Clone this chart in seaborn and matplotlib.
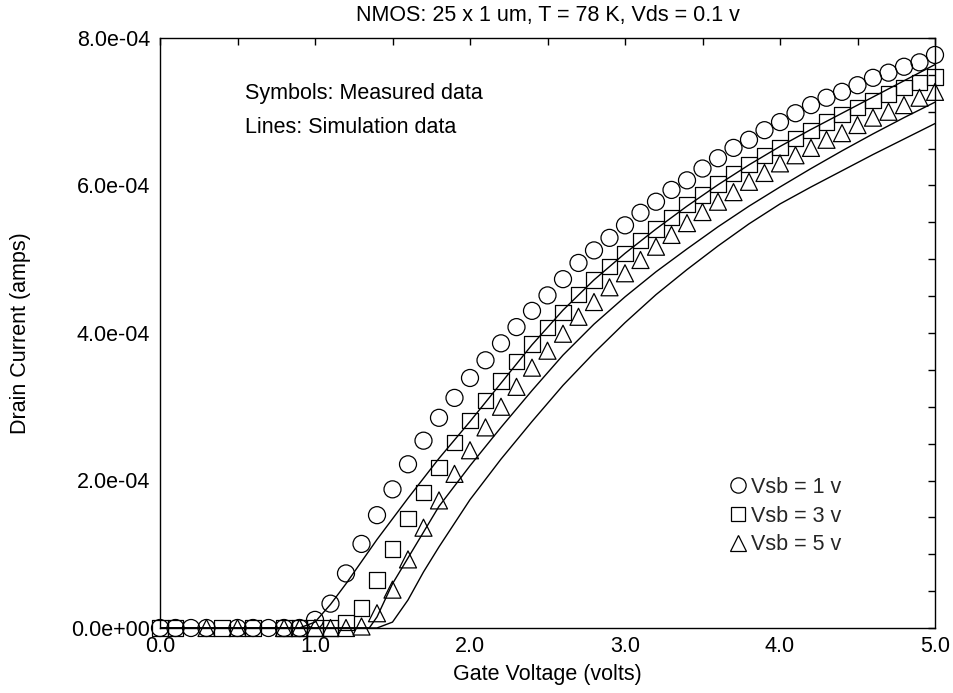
import numpy as np
import pandas as pd
import matplotlib
matplotlib.use("Agg")
import matplotlib.pyplot as plt
from matplotlib.ticker import MultipleLocator, FuncFormatter
from matplotlib.lines import Line2D
import seaborn as sns

# ---------------- data (current in units of 1e-4 A) ----------------
# measured, Vsb = 1 v (circles)
meas1_vg = [0.0, 0.1, 0.2, 0.3, 0.5, 0.6, 0.7, 0.8, 0.9, 1.0, 1.1, 1.2, 1.3, 1.4, 1.5,
            1.6, 1.7, 1.8, 1.9, 2.0, 2.1, 2.2, 2.3, 2.4, 2.5, 2.6, 2.7, 2.8, 2.9, 3.0,
            3.1, 3.2, 3.3, 3.4, 3.5, 3.6, 3.7, 3.8, 3.9, 4.0, 4.1, 4.2, 4.3, 4.4, 4.5,
            4.6, 4.7, 4.8, 4.9, 5.0]
meas1_id = [0.0, 0.0, 0.0, 0.0, 0.0, 0.0, 0.0, 0.0, 0.0, 0.11, 0.33, 0.74, 1.14, 1.53, 1.88,
            2.22, 2.54, 2.85, 3.12, 3.39, 3.63, 3.86, 4.08, 4.30, 4.51, 4.73, 4.95, 5.12, 5.29, 5.46,
            5.63, 5.78, 5.94, 6.07, 6.23, 6.37, 6.51, 6.62, 6.75, 6.86, 6.98, 7.09, 7.19, 7.27, 7.36,
            7.46, 7.53, 7.61, 7.67, 7.77]
# measured, Vsb = 3 v (squares)
meas3_vg = [0.0, 0.1, 0.4, 0.6, 0.8, 0.9, 1.0, 1.1, 1.2, 1.3, 1.4, 1.5,
            1.6, 1.7, 1.8, 1.9, 2.0, 2.1, 2.2, 2.3, 2.4, 2.5, 2.6, 2.7, 2.8, 2.9, 3.0,
            3.1, 3.2, 3.3, 3.4, 3.5, 3.6, 3.7, 3.8, 3.9, 4.0, 4.1, 4.2, 4.3, 4.4, 4.5,
            4.6, 4.7, 4.8, 4.9, 5.0]
meas3_id = [0.0, 0.0, 0.0, 0.0, 0.0, 0.0, 0.0, 0.0, 0.07, 0.27, 0.65, 1.07,
            1.48, 1.84, 2.18, 2.51, 2.81, 3.09, 3.35, 3.61, 3.85, 4.07, 4.28, 4.52, 4.72, 4.90, 5.08,
            5.25, 5.41, 5.57, 5.74, 5.87, 6.02, 6.16, 6.28, 6.41, 6.52, 6.64, 6.75, 6.86, 6.96, 7.06,
            7.15, 7.24, 7.33, 7.40, 7.47]
# measured, Vsb = 5 v (triangles)
meas5_vg = [0.3, 0.5, 0.8, 0.9, 1.0, 1.1, 1.2, 1.3, 1.4, 1.5,
            1.6, 1.7, 1.8, 1.9, 2.0, 2.1, 2.2, 2.3, 2.4, 2.5, 2.6, 2.7, 2.8, 2.9, 3.0,
            3.1, 3.2, 3.3, 3.4, 3.5, 3.6, 3.7, 3.8, 3.9, 4.0, 4.1, 4.2, 4.3, 4.4, 4.5,
            4.6, 4.7, 4.8, 4.9, 5.0]
meas5_id = [0.0, 0.0, 0.0, 0.0, 0.0, 0.0, 0.0, 0.02, 0.20, 0.52,
            0.93, 1.36, 1.73, 2.09, 2.41, 2.72, 3.00, 3.27, 3.53, 3.76, 3.99, 4.22, 4.42, 4.62, 4.81,
            4.99, 5.17, 5.33, 5.49, 5.64, 5.78, 5.91, 6.05, 6.17, 6.30, 6.41, 6.51, 6.62, 6.71, 6.82,
            6.92, 7.00, 7.09, 7.19, 7.27]

# simulation lines
sim1_vg = [0.0, 0.9, 1.0, 1.1, 1.2, 1.3, 1.4, 1.5, 1.6, 1.8, 2.0, 2.2, 2.4, 2.6, 2.8,
           3.0, 3.2, 3.4, 3.6, 3.8, 4.0, 4.2, 4.4, 4.6, 4.8, 5.0]
sim1_id = [0.0, 0.0, 0.08, 0.32, 0.60, 0.90, 1.20, 1.48, 1.76, 2.30, 2.80, 3.32, 3.84, 4.31, 4.72,
           5.08, 5.41, 5.72, 6.01, 6.28, 6.53, 6.76, 6.98, 7.20, 7.42, 7.64]
sim3_vg = [0.0, 1.35, 1.4, 1.5, 1.6, 1.7, 1.8, 2.0, 2.2, 2.4, 2.6, 2.8,
           3.0, 3.2, 3.4, 3.6, 3.8, 4.0, 4.2, 4.4, 4.6, 4.8, 5.0]
sim3_id = [0.0, 0.0, 0.15, 0.60, 0.95, 1.30, 1.65, 2.20, 2.72, 3.22, 3.70, 4.12,
           4.49, 4.83, 5.14, 5.44, 5.72, 5.98, 6.23, 6.47, 6.70, 6.92, 7.13]
sim5_vg = [0.0, 1.4, 1.5, 1.6, 1.7, 1.8, 2.0, 2.2, 2.4, 2.6, 2.8,
           3.0, 3.2, 3.4, 3.6, 3.8, 4.0, 4.2, 4.4, 4.6, 4.8, 5.0]
sim5_id = [0.0, 0.0, 0.08, 0.38, 0.76, 1.10, 1.74, 2.29, 2.80, 3.29, 3.73,
           4.14, 4.52, 4.86, 5.18, 5.48, 5.75, 5.98, 6.20, 6.42, 6.63, 6.84]

legend_labels = ["Vsb = 1 v", "Vsb = 3 v", "Vsb = 5 v"]
title_text = "NMOS: 25 x 1 um, T = 78 K, Vds = 0.1 v"
xlabel_text = "Gate Voltage (volts)"
ylabel_text = "Drain Current (amps)"
note1 = "Symbols: Measured data"
note2 = "Lines: Simulation data"

# ---------------- plot ----------------
sns.set_theme(style="white")
plt.rcParams['font.family'] = ['Liberation Sans', 'DejaVu Sans']

FS = 15.5
fig = plt.figure(figsize=(9.54, 6.93), dpi=100)
ax = fig.add_axes([160/954, 1-628/693, (935-160)/954, (628-38)/693])

scale = 1e-4
meas = [(meas1_vg, meas1_id, "o", 150), (meas3_vg, meas3_id, "s", 120), (meas5_vg, meas5_id, "^", 150)]
for vg, idv, mk, sz in meas:
    df = pd.DataFrame({"vg": vg, "id": np.array(idv) * scale})
    sns.scatterplot(data=df, x="vg", y="id", marker=mk, s=sz, facecolors="none",
                    edgecolors="black", linewidths=0.9, ax=ax, clip_on=False, zorder=3)

for vg, idv in [(sim1_vg, sim1_id), (sim3_vg, sim3_id), (sim5_vg, sim5_id)]:
    df = pd.DataFrame({"vg": vg, "id": np.array(idv) * scale})
    sns.lineplot(data=df, x="vg", y="id", color="black", linewidth=1.0, sort=False,
                 estimator=None, ax=ax, zorder=2)

ax.set_xlim(0, 5.0)
ax.set_ylim(0, 8e-4)
ax.xaxis.set_major_locator(MultipleLocator(1.0))
ax.xaxis.set_minor_locator(MultipleLocator(0.5))
ax.yaxis.set_major_locator(MultipleLocator(2e-4))
ax.yaxis.set_minor_locator(MultipleLocator(0.5e-4))
ax.xaxis.set_major_formatter(FuncFormatter(lambda v, p: f"{v:.1f}"))
ax.yaxis.set_major_formatter(FuncFormatter(lambda v, p: f"{v:.1e}"))
ax.tick_params(which="both", direction="in", top=True, right=True, length=5,
               width=1.0, color="black", labelsize=FS, labelcolor="black")
ax.tick_params(axis="x", which="major", pad=6)
ax.tick_params(axis="y", which="major", pad=7)
for s in ax.spines.values():
    s.set_color("black")
    s.set_linewidth(1.0)
ax.grid(False)

ax.set_xlabel(xlabel_text, fontsize=FS, color="black")
ax.xaxis.set_label_coords(0.5, -(664 - 628) / 590)
ax.set_ylabel(ylabel_text, fontsize=FS, color="black")
ax.yaxis.set_label_coords(-(160 - 31) / 775, 0.5)
ax.set_title(title_text, fontsize=FS, color="black", y=(628 - 15) / 590, va="center", pad=0)

ax.text(0.55, 7.25e-4, note1, fontsize=FS, va="center", ha="left", color="black")
ax.text(0.55, 6.78e-4, note2, fontsize=FS, va="center", ha="left", color="black")

handles = [Line2D([], [], linestyle="none", marker=m, markersize=ms, markerfacecolor="none",
                  markeredgecolor="black", markeredgewidth=0.9)
           for m, ms in [("o", 11), ("s", 10), ("^", 11)]]
leg = ax.legend(handles, legend_labels, loc="center left",
                bbox_to_anchor=((729 - 160) / 775, (628 - 516) / 590),
                frameon=False, fontsize=FS, handlelength=0.8, handletextpad=0.2,
                labelspacing=0.35, borderaxespad=0, borderpad=0)

fig.savefig("out.png", dpi=100, facecolor="white")
